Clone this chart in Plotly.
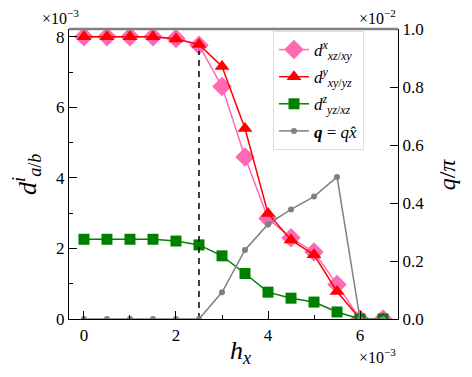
import plotly.graph_objects as go

# h_x in units of 1e-3
h_x = [0, 0.5, 1, 1.5, 2, 2.5, 3, 3.5, 4, 4.5, 5, 5.5, 6, 6.5]
# d coefficients in units of 1e-3
d_x = [8.0, 8.0, 8.0, 8.0, 7.95, 7.76, 6.59, 4.59, 2.85, 2.3, 1.9, 0.98, 0.0, 0.0]
d_y = [8.0, 8.0, 8.0, 8.0, 7.94, 7.78, 7.16, 5.40, 2.99, 2.24, 1.82, 0.78, 0.0, 0.0]
d_z = [2.26, 2.26, 2.26, 2.26, 2.21, 2.10, 1.79, 1.29, 0.76, 0.59, 0.48, 0.2, 0.0, 0.0]
# q/pi in units of 1e-2
q_pi = [0, 0, 0, 0, 0, 0, 0.092, 0.238, 0.327, 0.378, 0.422, 0.49, 0.0, 0.0]
h_crit = 2.5

FONT = "Liberation Serif, Times New Roman, serif"

fig = go.Figure()

fig.add_trace(go.Scatter(
    x=h_x, y=d_x, mode="lines+markers", legendgroup="a",
    name="<i>d</i><sup><i>x</i></sup><sub><i>xz</i>/<i>xy</i></sub>",
    line=dict(color="#ff69b4", width=1.5),
    marker=dict(symbol="diamond", size=15, color="#ff69b4")
))
fig.add_trace(go.Scatter(
    x=h_x, y=d_y, mode="lines+markers", legendgroup="b",
    name="<i>d</i><sup><i>y</i></sup><sub><i>xy</i>/<i>yz</i></sub>",
    line=dict(color="red", width=1.5),
    marker=dict(symbol="triangle-up", size=13, color="red")
))
fig.add_trace(go.Scatter(
    x=h_x, y=d_z, mode="lines+markers", legendgroup="c",
    name="<i>d</i><sup><i>z</i></sup><sub><i>yz</i>/<i>xz</i></sub>",
    line=dict(color="green", width=1.5),
    marker=dict(symbol="square", size=11, color="green")
))
fig.add_trace(go.Scatter(
    x=h_x, y=q_pi, mode="lines+markers", yaxis="y2", legendgroup="d",
    name="<b><i>q</i></b> = <i>q</i><i>x̂</i>",
    line=dict(color="gray", width=1.5),
    marker=dict(symbol="circle", size=6, color="gray")
))

# dashed vertical line at the critical field
fig.add_trace(go.Scatter(
    x=[h_crit, h_crit], y=[0, 7.6], mode="lines", showlegend=False,
    line=dict(color="black", width=1.5, dash="6px,5px"), hoverinfo="skip"
))

tickfont = dict(family=FONT, size=17, color="black")

# page body has an 8px margin, so the figure is 8px smaller than the window
fig.update_layout(
    width=464, height=369,
    margin=dict(l=61, r=74, t=17, b=58),
    plot_bgcolor="white", paper_bgcolor="white",
    font=dict(family=FONT, color="black"),
    xaxis=dict(
        range=[-0.325, 6.825], dtick=2, tick0=0,
        ticks="inside", ticklen=8, tickwidth=1, tickcolor="black",
        minor=dict(dtick=1, ticks="inside", ticklen=4, tickcolor="black"),
        showline=True, linecolor="black", linewidth=1.2,
        showgrid=False, zeroline=False, tickfont=tickfont,
    ),
    yaxis=dict(
        range=[0, 8.22], dtick=2, tick0=0,
        ticks="inside", ticklen=8, tickwidth=1, tickcolor="black",
        minor=dict(dtick=1, ticks="inside", ticklen=4, tickcolor="black"),
        showline=True, linecolor="black", linewidth=1.2,
        showgrid=False, zeroline=False, tickfont=tickfont,
    ),
    yaxis2=dict(
        overlaying="y", side="right",
        range=[0, 1.0], dtick=0.2, tick0=0, tickformat=".1f",
        ticks="inside", ticklen=8, tickwidth=1, tickcolor="black",
        showline=True, linecolor="black", linewidth=1.2,
        showgrid=False, zeroline=False, tickfont=tickfont,
    ),
    legend=dict(
        x=0.62, y=0.993, xanchor="left", yanchor="top",
        bgcolor="white", bordercolor="#dcdcdc", borderwidth=1,
        font=dict(family=FONT, size=17, color="black"),
        tracegroupgap=2, itemwidth=30,
    ),
    showlegend=True,
)

# grey top spine
fig.add_shape(type="line", xref="paper", yref="paper", x0=0, x1=1, y0=1, y1=1,
              line=dict(color="gray", width=2.5))

annots = [
    dict(text="×10<sup>−3</sup>", x=0.035, y=1.0, xanchor="right", yanchor="bottom", size=16),
    dict(text="×10<sup>−2</sup>", x=1.0, y=1.0, xanchor="right", yanchor="bottom", size=16),
    dict(text="×10<sup>−3</sup>", x=1.0, y=-0.085, xanchor="right", yanchor="top", size=16),
    dict(text="<i>h</i><sub><i>x</i></sub>", x=0.52, y=-0.115, xanchor="center", yanchor="middle", size=26),
]
for a in annots:
    fig.add_annotation(text=a["text"], xref="paper", yref="paper", x=a["x"], y=a["y"],
                       xanchor=a["xanchor"], yanchor=a["yanchor"], showarrow=False,
                       font=dict(family=FONT, size=a["size"], color="black"))

fig.add_annotation(text="<i>d</i><sup><i>i</i></sup><sub><i>a</i>/<i>b</i></sub>",
                   xref="paper", yref="paper", x=-0.128, y=0.5, textangle=-90,
                   xanchor="center", yanchor="middle", showarrow=False,
                   font=dict(family=FONT, size=26, color="black"))
fig.add_annotation(text="<i>q</i>/<i>π</i>",
                   xref="paper", yref="paper", x=1.15, y=0.5, textangle=-90,
                   xanchor="center", yanchor="middle", showarrow=False,
                   font=dict(family=FONT, size=24, color="black"))

fig.write_html("out.html")
